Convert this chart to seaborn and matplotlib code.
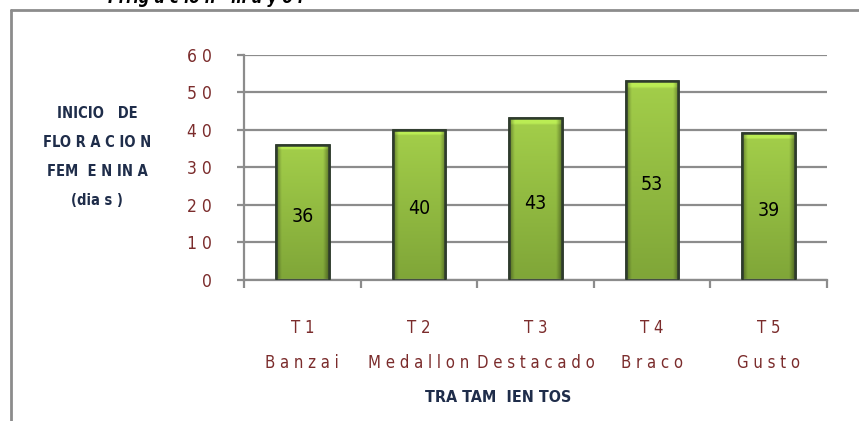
import numpy as np
import pandas as pd
import matplotlib
matplotlib.use("Agg")
import matplotlib.pyplot as plt
import seaborn as sns
from matplotlib.lines import Line2D
from matplotlib.patches import Rectangle
from matplotlib import font_manager

# ---- data ----
tratamientos = ["T1 Banzai", "T2 Medallon", "T3 Destacado", "T4 Braco", "T5 Gusto"]
tick_labels = ["T 1\nB a n z a i", "T 2\nM e d a l l o n", "T 3\nD e s t a c a d o",
               "T 4\nB r a c o", "T 5\nG u s t o"]
dias = [36, 40, 43, 53, 39]
bar_text = ["36", "40", "43", "53", "39"]
y_ticks = [0, 10, 20, 30, 40, 50, 60]
y_tick_labels = ["0", "1 0", "2 0", "3 0", "4 0", "5 0", "6 0"]
y_title = "INICIO   DE\nFLO R A C IO N\nFEM  E N IN A\n(dia s )"
x_title = "TRA TAM  IEN TOS"
top_title = "I rrig a c io n   m a y o r"

sns.set_theme(style="white")
fl = font_manager.fontManager.ttflist
names = {f.name for f in fl}
cond = None
if "Liberation Sans Narrow" in names:
    cond = ("Liberation Sans Narrow", "normal")
elif any(f.name == "DejaVu Sans" and "Condensed" in f.fname for f in fl):
    cond = ("DejaVu Sans", "condensed")
if cond is None:
    plt.rcParams["font.family"] = ["Liberation Sans", "DejaVu Sans"]
    small = True
else:
    plt.rcParams["font.family"] = [cond[0], "DejaVu Sans"]
    plt.rcParams["font.stretch"] = cond[1]
    small = False

fs_ytick = 12 if small else 12.5
fs_xtick = 11.5 if small else 12
fs_bar = 12.5 if small else 14

W, H = 859, 421
fig = plt.figure(figsize=(W / 100, H / 100), dpi=100)
fig.patch.set_facecolor("white")
ax = fig.add_axes([244 / W, 1 - 280 / H, (827 - 244) / W, (280 - 54.5) / H])

df = pd.DataFrame({"trat": tratamientos, "dias": dias})
sns.barplot(data=df, x="trat", y="dias", ax=ax, color="#8DB83E", width=0.45,
            edgecolor="#2E3B2C", linewidth=1.8, saturation=1, zorder=2)

gridc = "#8c8c8c"
ax.set_ylim(0, 60)
ax.set_xlim(-0.5, len(dias) - 0.5)
ax.set_yticks(y_ticks)
ax.set_yticklabels(y_tick_labels, color="#7B2C2C", fontsize=fs_ytick)
ax.yaxis.grid(True, color=gridc, linewidth=1.6)
ax.set_axisbelow(True)
for s in ["top", "right"]:
    ax.spines[s].set_visible(False)
for s in ["left", "bottom"]:
    ax.spines[s].set_color(gridc)
    ax.spines[s].set_linewidth(1.6)
ax.tick_params(axis="y", which="major", left=True, length=5, width=1.6, color=gridc, pad=18)
ax.set_xticks(range(len(dias)))
ax.set_xticklabels(tick_labels, color="#7B2C2C", fontsize=fs_xtick, linespacing=2.2)
ax.tick_params(axis="x", which="major", length=0, pad=28)
ax.set_xticks(np.arange(-0.5, len(dias), 1.0), minor=True)
ax.tick_params(axis="x", which="minor", bottom=True, length=6, width=1.6, color=gridc)
ax.set_xlabel("")
ax.set_ylabel("")

# gradient fill for bars
ny, nx = 80, 40
yy = np.linspace(0, 1, ny)[:, None]
xx = np.linspace(-1, 1, nx)[None, :]
top_c = np.array([0.64, 0.81, 0.29])
bot_c = np.array([0.50, 0.65, 0.22])
base = top_c * (1 - yy[..., None]) + bot_c * yy[..., None]
base = np.broadcast_to(base, (ny, nx, 3)).copy()
shade = 1 - 0.35 * np.clip(np.abs(xx) - 0.8, 0, None) / 0.2
base *= shade[..., None]
hl = (yy < 0.035)[..., None]
base = np.where(hl, np.clip(base * 1.15, 0, 1), base)

for p in list(ax.patches):
    x0, y0 = p.get_x(), p.get_y()
    w, h = p.get_width(), p.get_height()
    im = ax.imshow(base, extent=[x0, x0 + w, y0, y0 + h], origin="upper",
                   aspect="auto", zorder=2.5, interpolation="bilinear")
    im.set_clip_path(p)
    ax.add_patch(Rectangle((x0, y0), w, h, fill=False, edgecolor="#2E3B2C",
                           linewidth=1.8, zorder=3))
ax.set_xlim(-0.5, len(dias) - 0.5)
ax.set_ylim(0, 60)

texts = ax.bar_label(ax.containers[0], labels=bar_text, label_type="center",
                     color="black", fontsize=fs_bar, zorder=4)
for t in texts:
    t.xyann = (0, -3)

# axis titles
fig.text(97 / W, 1 - 157 / H, y_title, ha="center", va="center", fontsize=10.5,
         fontweight="bold", color="#1F2D4A", linespacing=2.15)
fig.text(498 / W, 1 - 398 / H, x_title, ha="center", va="center", fontsize=11.5,
         fontweight="bold", color="#1F2D4A")

# title clipped at the very top, as in the source image
fig.text(108 / W, 1 - 3 / H, top_title, ha="left", va="baseline", fontsize=12,
         fontweight="bold", fontstyle="italic", color="black")

# outer frame (partially visible)
fig.add_artist(Line2D([11 / W, 11 / W], [1 - 10 / H, 0], color=gridc, linewidth=2,
                      transform=fig.transFigure))
fig.add_artist(Line2D([11 / W, 1], [1 - 10 / H, 1 - 10 / H], color=gridc, linewidth=2,
                      transform=fig.transFigure))

fig.savefig("out.png", dpi=100)
